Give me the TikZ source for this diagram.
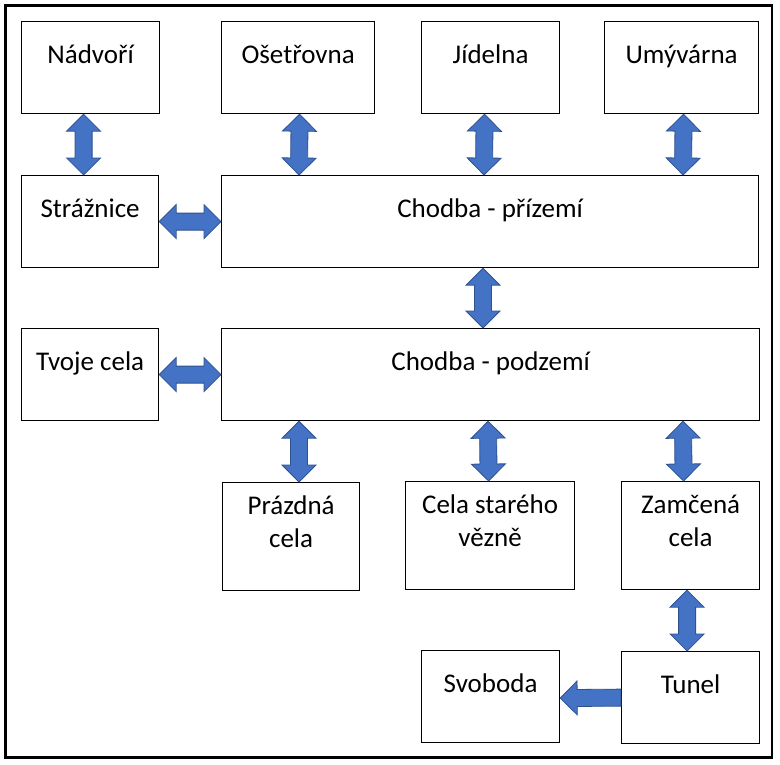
\documentclass[tikz,border=0pt]{standalone}
\usepackage{fontspec}
\setmainfont{Carlito}
\usetikzlibrary{calc}

\definecolor{sipkafill}{HTML}{4472C4}
\definecolor{sipkaline}{HTML}{2F528F}

\tikzset{
  mistnost/.style={draw, line width=1.2pt, anchor=north west, inner sep=0pt,
    align=flush center, font=\fontsize{27}{33.5}\selectfont},
  jednoradek/.style={text height=42pt, text depth=50pt},
  dvouradek/.style={text height=31.5pt, text depth=76.5pt},
  dvojsipka/.style={draw=sipkaline, fill=sipkafill, line width=0.8pt,
    to path={-- ($(\tikztostart)!24.04pt!45:(\tikztotarget)$)
      -- ($(\tikztostart)!19.01pt!26.57:(\tikztotarget)$)
      -- ($(\tikztotarget)!19.01pt!-26.57:(\tikztostart)$)
      -- ($(\tikztotarget)!24.04pt!-45:(\tikztostart)$)
      -- (\tikztotarget)
      -- ($(\tikztotarget)!24.04pt!45:(\tikztostart)$)
      -- ($(\tikztotarget)!19.01pt!26.57:(\tikztostart)$)
      -- ($(\tikztostart)!19.01pt!-26.57:(\tikztotarget)$)
      -- ($(\tikztostart)!24.04pt!-45:(\tikztotarget)$)
      -- cycle}},
  sipka/.style={draw=sipkaline, fill=sipkafill, line width=0.8pt,
    to path={-- ($(\tikztostart)!8.5pt!90:(\tikztotarget)$)
      -- ($(\tikztotarget)!19.01pt!-26.57:(\tikztostart)$)
      -- ($(\tikztotarget)!24.04pt!-45:(\tikztostart)$)
      -- (\tikztotarget)
      -- ($(\tikztotarget)!24.04pt!45:(\tikztostart)$)
      -- ($(\tikztotarget)!19.01pt!26.57:(\tikztostart)$)
      -- ($(\tikztostart)!8.5pt!-90:(\tikztotarget)$)
      -- cycle}}
}

\begin{document}
\begin{tikzpicture}[x=1pt,y=-1pt]

      \useasboundingbox (0,0) rectangle (780,764);
      \draw[line width=2.6pt] (5.3,5.3) rectangle (772,757.6);

      \begin{scope}[every node/.style={mistnost,jednoradek}]
        \node[text width=138pt] (nadvori)   at (21,21)   {Nádvoří};
        \node[text width=153pt] (osetrovna) at (221,21)  {Ošetřovna};
        \node[text width=138pt] (jidelna)   at (421,21)  {Jídelna};
        \node[text width=154pt] (umyvarna)  at (604,21)  {Umývárna};
        \node[text width=137pt] (straznice) at (21,175)  {Strážnice};
        \node[text width=537pt] (prizemi)   at (221,175) {Chodba - přízemí};
        \node[text width=137pt] (tvojecela) at (21,328)  {Tvoje cela};
        \node[text width=538pt] (podzemi)   at (221,328) {Chodba - podzemí};
        \node[text width=138pt] (svoboda)   at (421,650) {Svoboda};
        \node[text width=138pt] (tunel)     at (621,651) {Tunel};
      \end{scope}

      \begin{scope}[every node/.style={mistnost,dvouradek}]
        \node[text width=137pt] (prazdna) at (222,482) {Prázdná\\cela};
        \node[text width=169pt] (stary)   at (405,481) {Cela starého\\vězně};
        \node[text width=138pt] (zamcena) at (621,481) {Zamčená\\cela};
      \end{scope}

      \begin{scope}[every edge/.style={dvojsipka}]
        \path ([xshift=-7pt]nadvori.south)    edge ([xshift=-6.5pt]straznice.north);
        \path ([xshift=1.5pt]osetrovna.south) edge ([xshift=78pt]prizemi.north west);
        \path ([xshift=-6pt]jidelna.south)    edge ([xshift=263pt]prizemi.north west);
        \path ([xshift=2pt]umyvarna.south)    edge ([xshift=462pt]prizemi.north west);
        \path (straznice.east)                edge (prizemi.west);
        \path ([xshift=262pt]prizemi.south west) edge ([xshift=262pt]podzemi.north west);
        \path (tvojecela.east)                edge (podzemi.west);
        \path ([xshift=78pt]podzemi.south west)  edge ([xshift=77pt]prazdna.north west);
        \path ([xshift=267pt]podzemi.south west) edge ([xshift=-1.5pt]stary.north);
        \path ([xshift=462pt]podzemi.south west) edge ([xshift=-7pt]zamcena.north);
        \path ([xshift=-3.5pt]zamcena.south)  edge ([xshift=-3.5pt]tunel.north);
      \end{scope}

      \path (tunel.west) edge[sipka] ([yshift=-1.5pt]svoboda.east);

    \end{tikzpicture}
\end{document}
